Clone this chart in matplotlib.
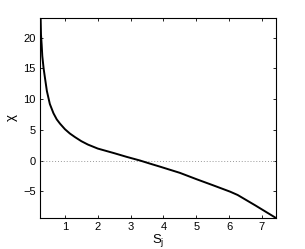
import matplotlib
matplotlib.use("Agg")
import matplotlib.pyplot as plt

plt.rcParams['font.family'] = ['Liberation Sans', 'DejaVu Sans']
plt.rcParams['mathtext.fontset'] = 'custom'
plt.rcParams['mathtext.rm'] = 'Liberation Sans'
plt.rcParams['mathtext.it'] = 'Liberation Sans:italic'

s_j = [0.26, 0.27, 0.29, 0.31, 0.35, 0.39, 0.45, 0.54, 0.65, 0.75, 0.85, 1.0, 1.15,
       1.31, 1.5, 1.7, 2.0, 2.5, 2.88, 3.29, 3.59, 3.9, 4.5, 5.02, 5.5, 6.03, 6.26, 6.8, 7.43]
chi = [23, 20.5, 18.9, 17, 15, 13.5, 11.3, 9.2, 7.7, 6.7, 6.0, 5.1, 4.4,
       3.8, 3.15, 2.6, 1.95, 1.2, 0.6, 0.0, -0.5, -1.0, -2.0, -3.06, -4.0, -5.06, -5.6, -7.3, -9.35]
xticks = [1, 2, 3, 4, 5, 6, 7]
yticks = [-5, 0, 5, 10, 15, 20]

fig = plt.figure(figsize=(3.05, 2.49), dpi=100)
ax = fig.add_axes([40/305, 1-218/249, 236/305, 200/249])
ax.axhline(0, color='#999999', linestyle=(0, (1, 2)), linewidth=0.7)
ax.plot(s_j, chi, color='black', linewidth=1.4)
ax.set_xlim(0.24, 7.43)
ax.set_ylim(-9.35, 23.2)
ax.set_xticks(xticks)
ax.set_yticks(yticks)
ax.tick_params(direction='in', length=2.5, width=0.6, labelsize=8, top=True, right=True, pad=3)
for sp in ax.spines.values():
    sp.set_linewidth(0.8)
ax.set_xlabel(r'S$_\mathregular{j}$', fontsize=9.5, labelpad=0)
ax.set_ylabel(r'$\mathrm{\chi}$', fontsize=9.5, labelpad=2)
fig.savefig('out.png', dpi=100)
